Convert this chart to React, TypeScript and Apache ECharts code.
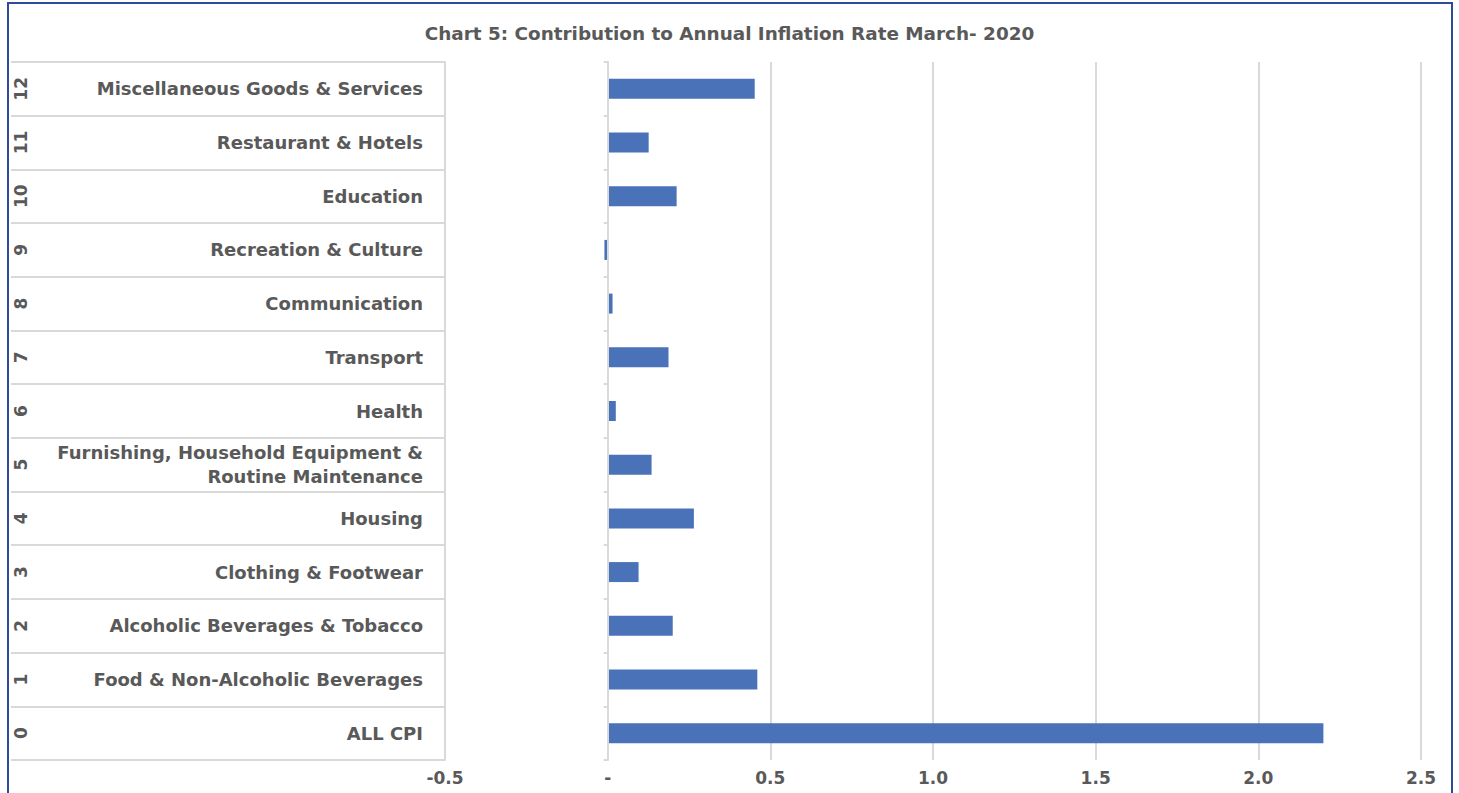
import React, { useEffect, useRef } from "react";
import * as echarts from "echarts";

const categories = [
  "ALL CPI",
  "Food & Non-Alcoholic Beverages",
  "Alcoholic Beverages & Tobacco",
  "Clothing & Footwear",
  "Housing",
  "Furnishing, Household Equipment &\nRoutine Maintenance",
  "Health",
  "Transport",
  "Communication",
  "Recreation & Culture",
  "Education",
  "Restaurant & Hotels",
  "Miscellaneous Goods & Services",
];
const categoryNumbers = ["0", "1", "2", "3", "4", "5", "6", "7", "8", "9", "10", "11", "12"];
const contributions = [2.2, 0.46, 0.2, 0.095, 0.265, 0.135, 0.025, 0.187, 0.015, -0.01, 0.212, 0.126, 0.452];
const titleText = "Chart 5: Contribution to Annual Inflation Rate March- 2020";

const FONT = "'DejaVu Sans', 'Open Sans', sans-serif";
const GRAY = "#595959";
const LINE = "#D9D9D9";

export default function App() {
  const ref = useRef<HTMLDivElement>(null);
  useEffect(() => {
    document.body.style.margin = "0";
    if (!ref.current) return;
    const chart = echarts.init(ref.current, undefined, { renderer: "svg" });
    chart.setOption({
      animation: false,
      backgroundColor: "#ffffff",
      title: {
        text: titleText,
        left: "center",
        top: 19,
        textStyle: { fontFamily: FONT, fontSize: 18.4, fontWeight: "bold", color: GRAY },
      },
      graphic: [
        {
          type: "rect",
          shape: { x: 8, y: 3, width: 1444, height: 820 },
          style: { fill: "none", stroke: "#2E4B9B", lineWidth: 2 },
          silent: true,
          z: 100,
        },
      ],
      grid: { left: 445, right: 38, top: 62, bottom: 33, containLabel: false },
      xAxis: {
        type: "value",
        min: -0.5,
        max: 2.5,
        interval: 0.5,
        axisLine: { show: false },
        axisTick: { show: false },
        splitLine: { show: true, lineStyle: { color: LINE, width: 2 } },
        axisLabel: {
          fontFamily: FONT,
          fontSize: 17,
          fontWeight: "bold",
          color: GRAY,
          margin: 9,
          formatter: (v: number) => (Math.abs(v) < 1e-9 ? "-" : v.toFixed(1)),
        },
      },
      yAxis: [
        {
          type: "category",
          data: categories,
          axisLine: { show: true, onZero: true, lineStyle: { color: LINE, width: 2 } },
          axisTick: { show: true, length: 4, lineStyle: { color: LINE, width: 2 } },
          axisLabel: { show: false },
          splitLine: { show: false },
          z: 3,
        },
        {
          type: "category",
          data: categories,
          position: "left",
          axisLine: { show: true, onZero: false, lineStyle: { color: LINE, width: 2 } },
          axisTick: { show: true, length: 434, lineStyle: { color: LINE, width: 2 } },
          axisLabel: {
            margin: 22,
            fontFamily: FONT,
            fontSize: 18,
            fontWeight: "bold",
            color: GRAY,
            lineHeight: 24,
            align: "right",
          },
          splitLine: { show: false },
        },
        {
          type: "category",
          data: categoryNumbers,
          position: "left",
          offset: 416,
          axisLine: { show: false, onZero: false },
          axisTick: { show: false },
          axisLabel: {
            rotate: 90,
            margin: 0,
            fontFamily: FONT,
            fontSize: 17,
            fontWeight: "bold",
            color: GRAY,
          },
          splitLine: { show: false },
        },
      ],
      series: [
        {
          type: "bar",
          yAxisIndex: 0,
          data: contributions,
          barWidth: 20,
          itemStyle: { color: "#4A72B8" },
        },
      ],
    });
    return () => chart.dispose();
  }, []);
  return <div ref={ref} style={{ width: 1459, height: 793 }} />;
}
